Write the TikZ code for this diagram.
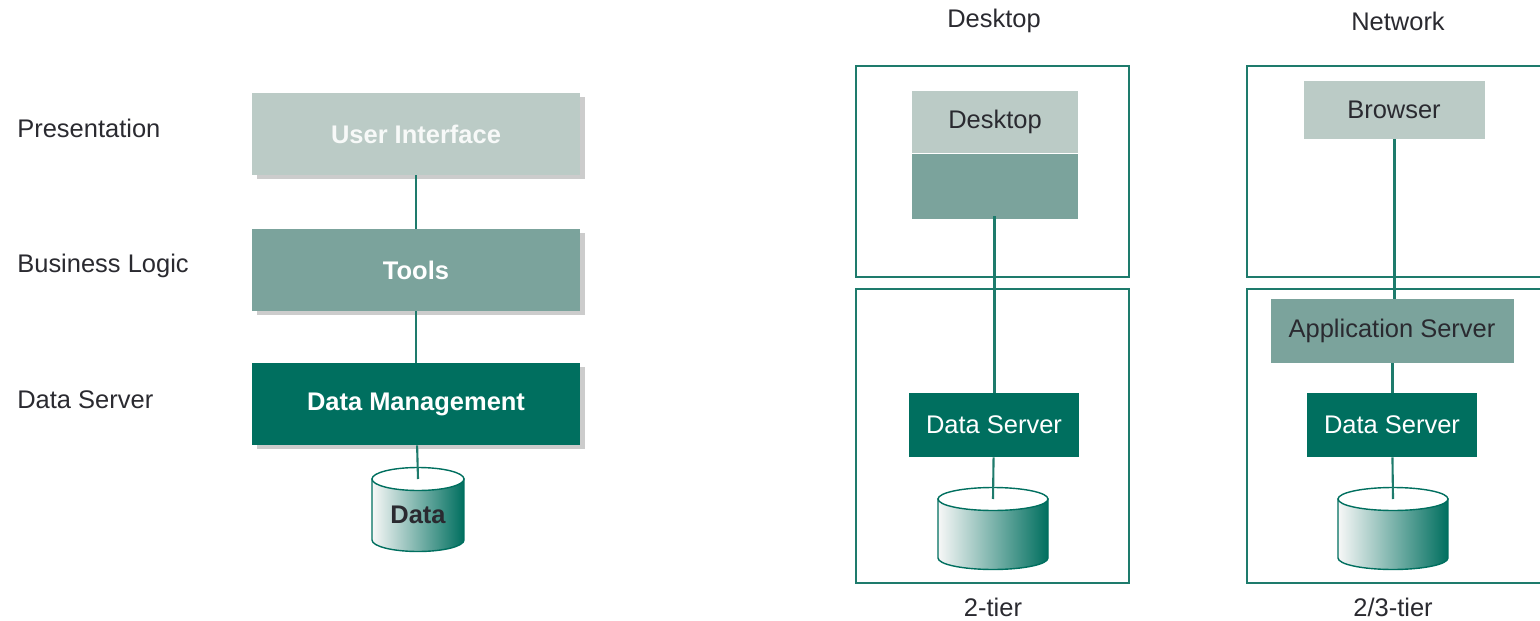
\documentclass[tikz,border=0pt]{standalone}
\usepackage{fontspec}
\setmainfont{Liberation Sans}
\usepackage{tikz}
\usetikzlibrary{positioning, shadows}

\definecolor{tierlight}{HTML}{BBCBC6}
\definecolor{tiermid}{HTML}{7BA39C}
\definecolor{tierdark}{HTML}{006F5F}
\definecolor{tierline}{HTML}{1E7B6C}
\definecolor{tiertext}{HTML}{2A2A30}

\begin{document}
\begin{tikzpicture}[x=0.02cm, y=-0.02cm, font=\fontsize{14.5}{17}\selectfont, text=tiertext]
\tikzstyle{layer_box}=[minimum width=6.56cm, minimum height=1.64cm, inner sep=0, text=white, font=\fontsize{14.5}{17}\selectfont\bfseries, drop shadow={shadow xshift=0.1cm, shadow yshift=-0.08cm, fill=black!20, opacity=1}]
\tikzstyle{srv_box}=[minimum width=3.4cm, minimum height=1.28cm, inner sep=0]
\tikzstyle{tier_frame}=[draw=tierline, line width=1.1pt]
\tikzstyle{link}=[draw=tierline, line width=1.2pt]
\tikzstyle{thick_link}=[draw=tierline, line width=1.7pt]

\clip (0,0) rectangle (1540,621);

% layer names
\node[anchor=west, inner sep=0] (lbl_pres) at (17,128) {Presentation};
\node[anchor=west, inner sep=0] (lbl_logic) at (17,266) {Business Logic};
\node[anchor=west, inner sep=0] (lbl_data) at (17,400) {Data Server};

% layer stack
\node[layer_box, fill=tierlight, text=white!88!tierlight] (ui) at (416,134) {User Interface};
\node[layer_box, fill=tiermid] (tools) at (416,270) {Tools};
\node[layer_box, fill=tierdark] (dm) at (416,404) {Data Management};

% frames
\draw[tier_frame] (856,66) rectangle (1129,277);
\draw[tier_frame] (856,289) rectangle (1129,583);
\draw[tier_frame] (1247,66) rectangle (1545,277);
\draw[tier_frame] (1247,289) rectangle (1545,583);

\node (hd_desk) at (994,21) {Desktop};
\node (hd_net) at (1398,21) {Network};
\node (ft_desk) at (993,607) {2-tier};
\node (ft_net) at (1393,607) {2/3-tier};

% databases
\foreach \nm/\cx/\ct/\cb/\rx in {db_a/418/479/540/0.92, db_b/993/499/558/1.1, db_c/1393/499/558/1.1} {
  \shade[left color=gray!6, right color=tierdark, draw=tierdark, line width=0.8pt]
    (\cx,\ct) ++(-\rx cm,0) -- ++(0,\cb-\ct) arc[start angle=180, end angle=360, x radius=\rx cm, y radius=0.23cm]
    -- ++(0,\ct-\cb) -- cycle;
  \draw[fill=white, draw=tierdark, line width=0.8pt] (\cx,\ct) ellipse[x radius=\rx cm, y radius=0.23cm];
  \coordinate (\nm) at (\cx,\ct);
}
\node[font=\fontsize{14.5}{17}\selectfont\bfseries] (data) at (418,515) {Data};

% desktop column
\node[srv_box, fill=tierlight, minimum width=3.32cm, minimum height=1.24cm] (desk_ui) at (995,122) {Desktop};
\node[srv_box, fill=tiermid, minimum width=3.32cm, minimum height=1.3cm, below=0 of desk_ui] (desk_app) {};
\node[srv_box, fill=tierdark, text=white] (desk_ds) at (994,425) {Data Server};

% network column
\node[srv_box, fill=tierlight, minimum width=3.62cm, minimum height=1.16cm] (browser) at (1394,110) {Browser};
\node[srv_box, fill=tiermid, minimum width=4.86cm] (app) at (1392,331) {Application Server};
\node[srv_box, fill=tierdark, text=white] (net_ds) at (1392,425) {Data Server};

\path[link] (ui) edge (tools);
\path[link] (tools) edge (dm);
\path[link] (dm) edge (db_a);
\path[thick_link] ([yshift=0.06cm]desk_app.south -| desk_ds.north) edge (desk_ds.north);
\path[link] (desk_ds) edge (db_b);
\path[thick_link] (browser.south) edge (browser.south |- app.north);
\path[thick_link] (app.south -| net_ds.north) edge (net_ds.north);
\path[link] (net_ds) edge (db_c);
\end{tikzpicture}
\end{document}
